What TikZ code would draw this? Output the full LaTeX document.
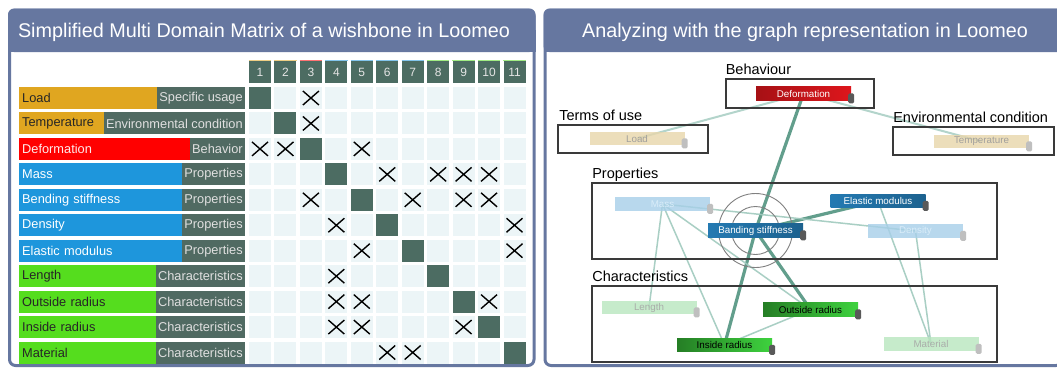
\documentclass[tikz,border=0pt]{standalone}
\usepackage{fontspec}
\setmainfont{Liberation Sans}
\definecolor{panelblue}{RGB}{102,119,160}
\definecolor{celldark}{RGB}{76,108,98}
\definecolor{celllight}{RGB}{236,245,247}
\definecolor{catdark}{RGB}{80,106,98}
\definecolor{cusage}{RGB}{224,166,32}
\definecolor{cbehav}{RGB}{255,0,0}
\definecolor{cprop}{RGB}{30,150,220}
\definecolor{cchar}{RGB}{85,221,30}
\definecolor{boxgray}{RGB}{58,58,58}
\definecolor{linkdark}{RGB}{98,158,140}
\definecolor{linklight}{RGB}{160,202,190}
\definecolor{defred}{RGB}{222,22,28}
\definecolor{propblue}{RGB}{36,122,178}
\definecolor{chargreen}{RGB}{62,210,62}
\definecolor{usagefade}{RGB}{232,214,171}
\definecolor{propfade}{RGB}{167,207,233}
\definecolor{charfade}{RGB}{184,230,191}

\pgfdeclarelayer{back}
\pgfdeclarelayer{links}
\pgfsetlayers{back,links,main}

\tikzset{
  panel/.style={draw=panelblue, line width=3pt, fill=white, rounded corners=6pt},
  titlebar/.style={fill=panelblue},
  titletext/.style={text=white, font=\fontsize{19.8}{22}\selectfont, inner sep=0pt, anchor=base},
  headcell/.style={fill=celldark, text=white!90!black, minimum width=22pt, minimum height=22pt, inner sep=0pt, font=\fontsize{12}{14}\selectfont},
  cell/.style={fill=celllight, minimum width=22pt, minimum height=22pt, inner sep=0pt},
  diagcell/.style={fill=celldark, minimum width=22pt, minimum height=22pt, inner sep=0pt},
  cross/.style={line width=1.4pt, black},
  rowbar/.style={anchor=west, text width=220pt, align=left, inner xsep=3pt, inner ysep=0pt, minimum height=22pt, font=\fontsize{12.8}{14}\selectfont},
  catbox/.style={anchor=east, fill=catdark, text=white!88!black, inner xsep=2.5pt, inner ysep=0pt, minimum height=22pt, font=\fontsize{12.8}{14}\selectfont},
  groupbox/.style={draw=boxgray, line width=1.8pt, inner sep=0pt},
  grouplabel/.style={font=\fontsize{14.5}{16}\selectfont, inner sep=0pt, anchor=base west},
  gnode/.style={minimum width=95pt, minimum height=13.5pt, inner sep=0pt, font=\fontsize{9.8}{11}\selectfont},
  faded/.style={gnode, fill opacity=0.8, text opacity=0.9},
  handle/.style={fill=black!65, rounded corners=1.5pt, minimum width=6pt, minimum height=10pt, inner sep=0pt},
  linkstrong/.style={linkdark, line width=3.2pt},
  linkthin/.style={linklight, line width=1.5pt, opacity=0.9},
  linkfaint/.style={linklight, line width=2pt, opacity=0.8},
  ring/.style={black!50, line width=0.9pt}
}

\begin{document}
\begin{tikzpicture}[x=1pt,y=-1pt]
\useasboundingbox (0,0) rectangle (1057,368);

% Panels and title bars
\begin{pgfonlayer}{back}
\draw[panel] (9.5,10) rectangle (534,365.5);
\fill[titlebar, rounded corners=6pt] (8,8.5) rectangle (535.5,52);
\fill[titlebar] (8,30) rectangle (535.5,52);
\draw[panel] (545,10) rectangle (1062,365.5);
\fill[titlebar, rounded corners=6pt] (543.5,8.5) rectangle (1064,52);
\fill[titlebar] (543.5,30) rectangle (1064,52);
\end{pgfonlayer}

\node[titletext] (lefttitle) at (264,37) {Simplified Multi Domain Matrix of a wishbone in Loomeo};
\node[titletext] (righttitle) at (805,37) {Analyzing with the graph representation in Loomeo};

% Multi Domain Matrix: column heads
\foreach \c in {1,...,11}
  \node[headcell] (h\c) at ({260+(\c-1)*25.45},72) {\c};
\foreach \c/\hc in {1/cusage,2/cusage,3/cbehav,4/cprop,5/cprop,6/cprop,7/cprop,8/cchar,9/cchar,10/cchar,11/cchar}
  \draw[\hc!55, line width=1pt] (h\c.north west) -- (h\c.north east);

% Row labels with their domain
\foreach \lab/\cat/\col/\tcol [count=\r] in {
    Load/Specific usage/cusage/black!85,
    Temperature/Environmental condition/cusage/black!85,
    Deformation/Behavior/cbehav/white!92!red,
    Mass/Properties/cprop/white,
    Bending stiffness/Properties/cprop/white,
    Density/Properties/cprop/white,
    Elastic modulus/Properties/cprop/white,
    Length/Characteristics/cchar/black!85,
    Outside radius/Characteristics/cchar/black!85,
    Inside radius/Characteristics/cchar/black!85,
    Material/Characteristics/cchar/black!85}
{
  \node[rowbar, fill=\col, text=\tcol] (lab\r) at (19,{98+(\r-1)*25.45}) {\lab};
  \node[catbox] (cat\r) at (lab\r.east) {\cat};
}

% Matrix cells
\foreach \r in {1,...,11}
  \foreach \c in {1,...,11}
    \node[cell] (c-\r-\c) at ({260+(\c-1)*25.45},{98+(\r-1)*25.45}) {};
\foreach \r in {1,...,11}
  \node[diagcell] (d\r) at (c-\r-\r) {};

% Dependencies
\foreach \r/\c in {1/3,2/3,3/1,3/2,3/5,4/6,4/8,4/9,4/10,5/3,5/7,5/9,5/10,
                   6/4,6/11,7/5,7/11,8/4,9/4,9/5,9/10,10/4,10/5,10/9,11/6,11/7}
  \draw[cross] ([shift={(-8,-7)}]c-\r-\c.center) -- ([shift={(8,7)}]c-\r-\c.center)
               ([shift={(-8,7)}]c-\r-\c.center) -- ([shift={(8,-7)}]c-\r-\c.center);

% Graph representation: domain boxes
\node[groupbox, minimum width=148pt, minimum height=29pt] (behbox) at (800,93.5) {};
\node[groupbox, minimum width=150pt, minimum height=28pt] (usebox) at (633,139) {};
\node[groupbox, minimum width=161pt, minimum height=28pt] (envbox) at (973.5,141) {};
\node[groupbox, minimum width=405pt, minimum height=76pt] (propbox) at (794.5,221) {};
\node[groupbox, minimum width=405pt, minimum height=76pt] (charbox) at (794.5,324) {};

\node[grouplabel] (behlabel) at ([shift={(0.5,-3.5)}]behbox.north west) {Behaviour};
\node[grouplabel] (uselabel) at ([shift={(2,-3.5)}]usebox.north west) {Terms of use};
\node[grouplabel] (envlabel) at ([shift={(1,-4)}]envbox.north west) {Environmental condition};
\node[grouplabel] (proplabel) at ([shift={(1,-3.5)}]propbox.north west) {Properties};
\node[grouplabel] (charlabel) at ([shift={(1,-4)}]charbox.north west) {Characteristics};

% Elements
\node[gnode, left color=defred!75!black, right color=defred, text=white] (deform) at (803.5,93.5) {Deformation};
\node[faded, fill=usagefade, text=black!40] (load) at (637,138.5) {Load};
\node[faded, fill=usagefade, text=black!40] (temp) at (981.5,141.5) {Temperature};
\node[faded, fill=propfade, text=white!85!cprop] (mass) at (662.5,204) {Mass};
\node[gnode, left color=propblue, right color=propblue!80!black, text=white] (elastic) at (878,201) {Elastic modulus};
\node[gnode, left color=propblue, right color=propblue!80!black, text=white] (bend) at (755.5,230.5) {Banding stiffness};
\node[faded, fill=propfade, text=white!85!cprop] (density) at (915.5,231) {Density};
\node[faded, fill=charfade, text=black!35] (length) at (649,307.5) {Length};
\node[gnode, left color=chargreen!60!black, right color=chargreen, text=black] (outside) at (810.5,309.5) {Outside radius};
\node[gnode, left color=chargreen!60!black, right color=chargreen, text=black] (inside) at (724.5,345) {Inside radius};
\node[faded, fill=charfade, text=black!35] (material) at (931,344) {Material};

\foreach \n in {deform,elastic,bend,outside,inside}
  \node[handle] (\n-h) at ([shift={(0,-2)}]\n.south east) {};
\foreach \n in {load,temp,mass,density,length,material}
  \node[handle, fill=black!25] (\n-h) at ([shift={(0,-2)}]\n.south east) {};

% Links between elements
\begin{pgfonlayer}{links}
\draw[linkfaint] (deform.center) -- (load.center);
\draw[linkfaint] (deform.center) -- (temp.center);
\draw[linkstrong] (deform.center) -- (bend.center);
\draw[linkstrong] (bend.center) -- (inside.center);
\draw[linkstrong] (bend.center) -- (outside.center);
\draw[linkstrong] (bend.center) -- (elastic.center);
\draw[linkthin] (mass.center) -- (length.center);
\draw[linkthin] (mass.center) -- (inside.center);
\draw[linkthin] (mass.center) -- (outside.center);
\draw[linkthin] (mass.center) -- (density.center);
\draw[linkthin] (elastic.center) -- (material.center);
\draw[linkthin] (density.center) -- (material.center);
\draw[linkthin] (outside.center) -- (inside.center);
\draw[ring] (bend.center) circle[radius=37] (bend.center) circle[radius=24];
\end{pgfonlayer}
\end{tikzpicture}
\end{document}
